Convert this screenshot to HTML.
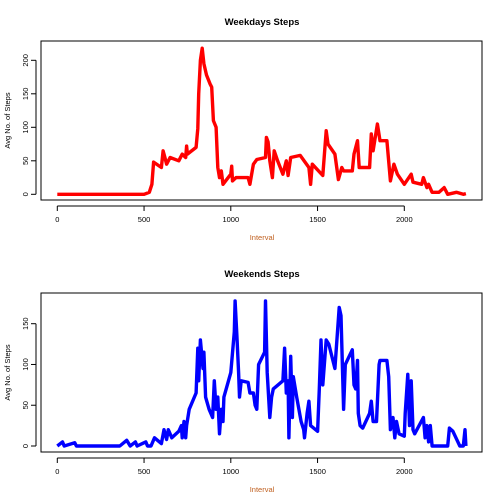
<!DOCTYPE html>
<html><head><meta charset="utf-8"><style>
html,body{margin:0;padding:0;background:#fff;}
svg{display:block;font-family:"Liberation Sans",Arial,sans-serif;}
</style></head><body>
<svg id="c" width="504" height="504" viewBox="0 0 504 504"></svg>
<script>
const xTicks=[0,500,1000,1500,2000];
const wdYTicks=[0,50,100,150,200];
const weYTicks=[0,50,100,150];
const wdX=[0,500,530,545,555,600,610,620,630,650,700,720,740,745,750,800,810,815,825,835,845,860,880,890,900,915,925,935,945,955,1000,1005,1010,1030,1100,1110,1130,1150,1200,1205,1215,1225,1240,1250,1270,1300,1320,1330,1345,1400,1450,1460,1470,1530,1550,1560,1600,1620,1640,1650,1700,1710,1730,1740,1760,1800,1810,1820,1845,1860,1900,1920,1940,1960,2000,2040,2050,2100,2110,2130,2140,2160,2200,2230,2250,2300,2340,2355];
const wdY=[0,0,3,15,48,40,65,55,45,55,50,60,55,72,60,70,98,150,200,218,195,178,165,160,110,100,40,25,35,15,30,42,20,25,25,15,45,52,55,85,78,50,25,65,50,30,50,28,55,58,40,15,45,28,95,75,60,22,40,35,35,60,80,40,40,40,90,65,105,80,80,20,45,30,15,30,18,15,25,10,15,3,3,10,0,3,0,1];
const weX=[0,30,40,100,110,360,400,420,450,460,510,520,540,560,600,615,630,640,660,700,715,720,730,740,745,760,800,810,815,825,840,845,855,875,895,905,915,925,935,945,955,960,1000,1020,1025,1035,1045,1050,1060,1100,1110,1130,1140,1150,1160,1195,1200,1210,1225,1235,1245,1300,1310,1320,1330,1335,1345,1355,1360,1380,1405,1420,1425,1440,1450,1460,1500,1510,1520,1530,1550,1565,1600,1625,1635,1650,1660,1700,1710,1720,1730,1735,1745,1760,1800,1810,1820,1840,1855,1860,1900,1910,1920,1935,1945,1955,1970,2000,2005,2020,2030,2040,2050,2060,2110,2120,2130,2140,2150,2160,2250,2260,2280,2320,2340,2350,2355];
const weY=[0,5,0,4,0,0,7,0,5,0,5,0,0,10,3,20,8,20,10,18,25,10,30,10,25,45,65,120,80,130,95,115,60,45,35,80,45,60,15,45,30,60,90,140,178,135,90,60,80,78,65,65,50,45,100,115,178,90,35,60,70,80,120,65,80,10,110,35,85,60,30,20,10,40,55,25,18,70,130,75,130,125,95,170,160,45,100,118,75,70,105,40,25,22,40,55,30,30,100,105,105,85,20,35,10,30,15,12,40,88,25,80,20,15,35,10,25,5,25,0,0,22,18,0,0,20,0];

const svg=document.getElementById('c');
const NS='http://www.w3.org/2000/svg';
function mk(t,a,txt){const e=document.createElementNS(NS,t);for(const k in a)e.setAttribute(k,a[k]);if(txt!==undefined)e.textContent=txt;svg.appendChild(e);return e;}

function panel(p){
  const sx=v=>57.3+v*(404.3-57.3)/2000;
  const sy=v=>p.y0+v*p.k;
  let e=mk('rect',{x:41,y:p.top,width:441,height:p.bot-p.top,fill:'none',stroke:'#000','stroke-width':1});
  
  
  e=mk('text',{x:262,y:p.titleY,'text-anchor':'middle','font-size':'9.5','font-weight':'bold',fill:'#000'},p.title);
  
  
  e=mk('text',{x:262,y:p.bot+40,'text-anchor':'middle','font-size':'7.5',fill:'#c06020'},'Interval');
  
  
  const cy=(p.top+p.bot)/2;
  e=mk('text',{x:10,y:cy,'text-anchor':'middle','font-size':'7.5',fill:'#000',transform:'rotate(-90 10 '+cy+')'},'Avg No. of Steps');
  
  
  mk('line',{x1:sx(xTicks[0]),x2:sx(xTicks[xTicks.length-1]),y1:p.bot+6,y2:p.bot+6,stroke:'#000'});
  xTicks.forEach(t=>{
    mk('line',{x1:sx(t),x2:sx(t),y1:p.bot+6,y2:p.bot+11,stroke:'#000'});
    const l=mk('text',{x:sx(t),y:p.bot+22,'text-anchor':'middle','font-size':'7.5',fill:'#000'},String(t));
    
    
  });
  const yt=p.ticks;
  mk('line',{x1:36,x2:36,y1:sy(yt[0]),y2:sy(yt[yt.length-1]),stroke:'#000'});
  yt.forEach(t=>{
    mk('line',{x1:31,x2:36,y1:sy(t),y2:sy(t),stroke:'#000'});
    const l=mk('text',{x:28,y:sy(t),'text-anchor':'middle','font-size':'7.5',fill:'#000',transform:'rotate(-90 28 '+sy(t)+')'},String(t));
    
    
  });
  const pts=p.xs.map((x,i)=>sx(x).toFixed(1)+','+sy(p.ys[i]).toFixed(1)).join(' ');
  e=mk('polyline',{points:pts,fill:'none',stroke:p.color,'stroke-width':3.4,'stroke-linejoin':'round','stroke-linecap':'butt'});
  
  
}
panel({id:'weekdays',title:'Weekdays Steps',top:41,bot:200,titleY:25,y0:194.3,k:-0.67,ticks:wdYTicks,xs:wdX,ys:wdY,color:'#ff0000'});
panel({id:'weekends',title:'Weekends Steps',top:293,bot:452,titleY:277,y0:446,k:-0.8153,ticks:weYTicks,xs:weX,ys:weY,color:'#0000ff'});
</script>
</body></html>
